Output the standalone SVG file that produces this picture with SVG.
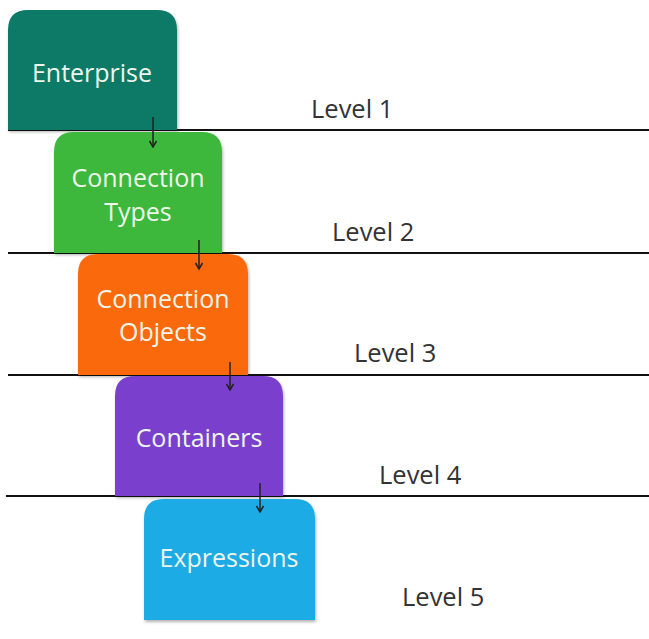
<svg xmlns="http://www.w3.org/2000/svg" width="649" height="639" viewBox="0 0 649 639">
<style>
.lvl{font-family:"Open Sans","Liberation Sans",sans-serif;font-size:25.5px;fill:#333;}
.lbl{font-family:"Open Sans","Liberation Sans",sans-serif;font-size:25px;fill:#eef6ea;text-anchor:middle;}
.ln{stroke:#111;stroke-width:2.2;}
.arr{stroke:#222;stroke-width:1.5;fill:none;marker-end:url(#ah);}
</style>
<defs>
<marker id="ah" markerWidth="8" markerHeight="8" refX="7" refY="4" orient="auto" markerUnits="userSpaceOnUse">
<path d="M1,0.5 L7,4 L1,7.5" fill="none" stroke="#222" stroke-width="1.5"/>
</marker>
<filter id="sh" x="-10%" y="-10%" width="125%" height="125%">
<feDropShadow dx="1" dy="2" stdDeviation="1.5" flood-color="#000" flood-opacity="0.3"/>
</filter>
</defs>
<rect width="649" height="639" fill="#fff"/>
<g id="levels">
<line class="ln" x1="8" y1="130" x2="649" y2="130"/>
<line class="ln" x1="8" y1="253" x2="649" y2="253"/>
<line class="ln" x1="8" y1="375" x2="649" y2="375"/>
<line class="ln" x1="6" y1="496" x2="649" y2="496"/>
<text class="lvl" x="311" y="118">Level 1</text>
<text class="lvl" x="332" y="241">Level 2</text>
<text class="lvl" x="354" y="362">Level 3</text>
<text class="lvl" x="379" y="484">Level 4</text>
<text class="lvl" x="402" y="606">Level 5</text>
</g>
<g id="enterprise">
<path d="M8,130 V30 Q8,10 28,10 H157 Q177,10 177,30 V130 Z" fill="#0f7a68" filter="url(#sh)"/>
<text class="lbl" x="92" y="82">Enterprise</text>
</g>
<g id="connection-types">
<path d="M54,253 V152 Q54,132 74,132 H202 Q222,132 222,152 V253 Z" fill="#3db83c" filter="url(#sh)"/>
<text class="lbl" x="138" y="187">Connection</text>
<text class="lbl" x="138" y="221">Types</text>
</g>
<g id="connection-objects">
<path d="M78,375 V274 Q78,254 98,254 H228 Q248,254 248,274 V375 Z" fill="#fa6a0b" filter="url(#sh)"/>
<text class="lbl" x="163" y="308">Connection</text>
<text class="lbl" x="163" y="341">Objects</text>
</g>
<g id="containers">
<path d="M115,496 V396 Q115,376 135,376 H263 Q283,376 283,396 V496 Z" fill="#7a40cd" filter="url(#sh)"/>
<text class="lbl" x="199" y="447">Containers</text>
</g>
<g id="expressions">
<path d="M144,620 V519 Q144,499 164,499 H295 Q315,499 315,519 V620 Z" fill="#1aabe5" filter="url(#sh)"/>
<text class="lbl" x="229" y="567">Expressions</text>
</g>
<g id="connectors">
<line class="arr" x1="153" y1="117" x2="153" y2="147"/>
<line class="arr" x1="199" y1="240" x2="199" y2="269"/>
<line class="arr" x1="230" y1="362" x2="230" y2="390"/>
<line class="arr" x1="260" y1="483" x2="260" y2="512"/>
</g>
</svg>
